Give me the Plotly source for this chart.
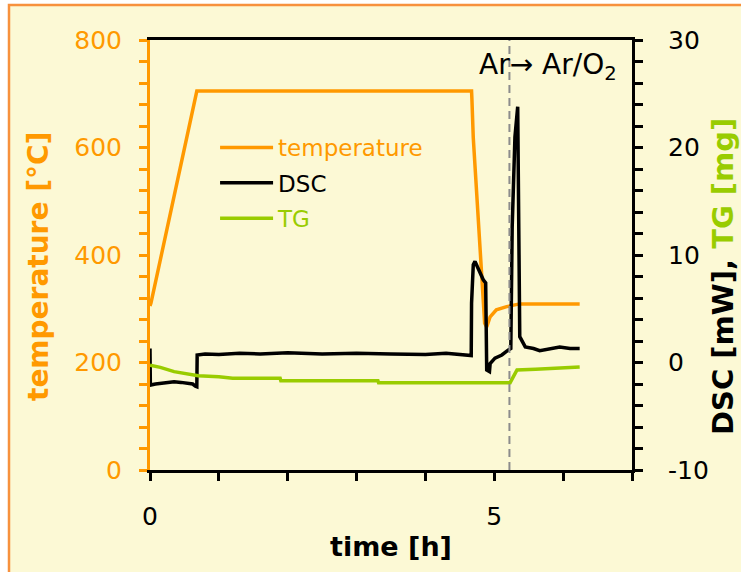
import plotly.graph_objects as go

# ---------------- data ----------------
temp_time = [0.0, 0.015, 0.68, 4.67, 4.675, 4.695, 4.73, 4.76, 4.79, 4.83, 4.86, 4.89,
             4.94, 5.03, 5.18, 5.37, 6.24]
temp_vals = [305, 311, 705, 705, 690, 618, 545, 484, 422, 340, 273, 266,
             285, 298, 304, 309, 309]

dsc_time = [0.0, 0.005, 0.08, 0.15, 0.25, 0.35, 0.45, 0.55, 0.62, 0.66, 0.68, 0.685,
            0.8, 1.0, 1.3, 1.6, 2.0, 2.5, 3.0, 3.5, 4.0, 4.3, 4.55, 4.665,
            4.67, 4.695, 4.72, 4.79, 4.84, 4.875, 4.89, 4.93, 4.94, 5.01, 5.11, 5.20, 5.24,
            5.26, 5.30, 5.34, 5.355, 5.37, 5.45, 5.57, 5.66, 5.81, 5.95, 6.10, 6.24]
dsc_vals = [1.3, -2.1, -2.0, -1.95, -1.85, -1.8, -1.85, -1.9, -2.0, -2.2, -2.25, 0.7,
            0.8, 0.75, 0.85, 0.8, 0.9, 0.8, 0.85, 0.8, 0.75, 0.85, 0.7, 0.65,
            5.5, 9.1, 9.4, 8.3, 7.7, 7.4, -0.7, -0.85, -0.1, 0.4, 0.7, 1.15, 1.3,
            12.6, 21.0, 23.8, 10.8, 2.4, 1.45, 1.3, 1.1, 1.25, 1.45, 1.3, 1.3]

tg_time = [0.0, 0.15, 0.35, 0.5, 0.7, 1.0, 1.2, 1.89, 1.9, 3.31, 3.32, 5.23, 5.27, 5.33,
           5.6, 6.0, 6.24]
tg_vals = [-0.25, -0.45, -0.85, -1.0, -1.23, -1.32, -1.47, -1.47, -1.69, -1.69, -1.88,
           -1.88, -1.4, -0.7, -0.62, -0.52, -0.42]

gas_switch_time = 5.22

x_ticks = [0, 5]
x_tick_text = ["0", "5"]
temp_ticks = [0, 200, 400, 600, 800]
temp_tick_text = ["0", "200", "400", "600", "800"]
right_ticks = [-10, 0, 10, 20, 30]
right_tick_text = ["-10", "0", "10", "20", "30"]

ORANGE = "#FF9900"
GREEN = "#99CC00"
BLACK = "#000000"
BG = "#FCF9D5"
FONT = "DejaVu Sans"

fig = go.Figure()
fig.add_trace(go.Scatter(x=temp_time, y=temp_vals, mode="lines", legendgroup="t",
                         name=f"<span style='color:{ORANGE}'>temperature</span>",
                         line=dict(color=ORANGE, width=3.5), yaxis="y"))
fig.add_trace(go.Scatter(x=dsc_time, y=dsc_vals, mode="lines", legendgroup="d",
                         name="DSC", line=dict(color=BLACK, width=3.5), yaxis="y2"))
fig.add_trace(go.Scatter(x=tg_time, y=tg_vals, mode="lines", legendgroup="g",
                         name=f"<span style='color:{GREEN}'>TG</span>",
                         line=dict(color=GREEN, width=3.5), yaxis="y2"))

W, H = 741, 572
L, R, T, B = 150, 109, 40, 102
pw, ph = W - L - R, H - T - B

fig.add_shape(type="rect", xref="paper", yref="paper",
              x0=-(L - 9) / pw, x1=1.6, y0=-0.6, y1=(H - B - 5) / ph,
              fillcolor=BG, line=dict(color="#F7913D", width=2.5), layer="below")

fig.add_shape(type="line", xref="x", yref="paper", x0=gas_switch_time, x1=gas_switch_time,
              y0=0, y1=1, line=dict(color="#8C8C8C", width=2, dash="8px,5px"))

fig.add_annotation(x=4.745, y=(H - B - 67) / ph, xref="x", yref="paper",
                   xanchor="left", yanchor="middle",
                   text="Ar\u2192 Ar/O<sub>2</sub>", showarrow=False,
                   font=dict(family=FONT, size=28, color=BLACK))

# axis titles (placed as rotated annotations to match the reference offsets)
fig.add_annotation(x=(38 - L) / pw, y=(H - B - 267) / ph, xref="paper", yref="paper",
                   xanchor="center", yanchor="middle", textangle=-90, showarrow=False,
                   text="<b>temperature [°C]</b>",
                   font=dict(family=FONT, size=28, color=ORANGE))
fig.add_annotation(x=(723 - L) / pw, y=(H - B - 277) / ph, xref="paper", yref="paper",
                   xanchor="center", yanchor="middle", textangle=-90, showarrow=False,
                   text=f"<b>DSC [mW], <span style='color:{GREEN}'>TG [mg]</span></b>",
                   font=dict(family=FONT, size=29, color=BLACK))

fig.update_layout(
    width=W, height=H,
    margin=dict(l=L, r=R, t=T, b=B, autoexpand=False),
    paper_bgcolor="white", plot_bgcolor="rgba(0,0,0,0)",
    font=dict(family=FONT, size=24, color=BLACK),
    showlegend=True,
    legend=dict(x=0.135, y=0.80, xanchor="left", yanchor="top",
                bgcolor="rgba(0,0,0,0)", font=dict(family=FONT, size=23),
                itemwidth=53, tracegroupgap=2.5),
    xaxis=dict(range=[0, 7], tickvals=x_ticks, ticktext=x_tick_text, automargin=False,
               ticks="outside", ticklen=8, tickwidth=2.5,
               tickcolor=BLACK, showline=True, linecolor=BLACK, linewidth=3, mirror=True,
               showgrid=False, zeroline=False,
               minor=dict(dtick=1, ticks="outside", ticklen=8, tickwidth=2.5, tickcolor=BLACK),
               tickfont=dict(family=FONT, size=25, color=BLACK), ticklabelstandoff=14,
               title=dict(text="<b>time [h]</b>", font=dict(family=FONT, size=27, color=BLACK),
                          standoff=8)),
    yaxis=dict(range=[0, 800], tickvals=temp_ticks, ticktext=temp_tick_text, automargin=False,
               ticks="outside", ticklen=8, tickwidth=2.5,
               tickcolor=ORANGE, showline=True, linecolor=ORANGE, linewidth=3,
               showgrid=False, zeroline=False,
               minor=dict(dtick=40, ticks="outside", ticklen=8, tickwidth=2.5, tickcolor=ORANGE),
               tickfont=dict(family=FONT, size=25, color=ORANGE), ticklabelstandoff=12),
    yaxis2=dict(range=[-10, 30], tickvals=right_ticks, ticktext=right_tick_text,
                overlaying="y", side="right", automargin=False,
                ticks="outside", ticklen=8, tickwidth=2.5, tickcolor=BLACK,
                showline=True, linecolor=BLACK, linewidth=3, showgrid=False, zeroline=False,
                minor=dict(dtick=2, ticks="outside", ticklen=8, tickwidth=2.5, tickcolor=BLACK),
                tickfont=dict(family=FONT, size=25, color=BLACK), ticklabelstandoff=20),
)

fig.write_html("out.html", config={"displayModeBar": False},
               post_script="document.body.style.margin='0px';")
